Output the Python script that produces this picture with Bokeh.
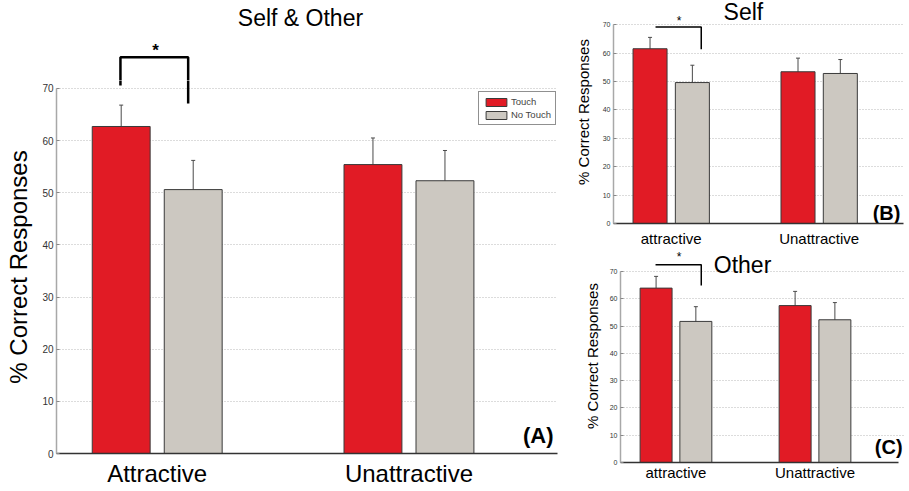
from bokeh.plotting import figure
from bokeh.models import (ColumnDataSource, Whisker, TeeHead, FixedTicker,
                          Legend, LegendItem)
from bokeh.core.properties import value
from bokeh.layouts import row, column
from bokeh.embed import file_html
from bokeh.resources import INLINE

# ---------------- data ----------------
categories_a = ["Attractive", "Unattractive"]
categories_bc = ["attractive", "Unattractive"]
y_ticks = [0, 10, 20, 30, 40, 50, 60, 70]
series_names = ["Touch", "No Touch"]
y_title = "% Correct Responses"

# Panel A: Self & Other
a_touch = [62.7, 55.4]
a_touch_lo = [58.5, 50.3]
a_touch_hi = [66.8, 60.5]
a_notouch = [50.6, 52.3]
a_notouch_lo = [45.0, 46.7]
a_notouch_hi = [56.2, 58.1]

# Panel B: Self
b_touch = [61.5, 53.4]
b_touch_lo = [57.4, 48.1]
b_touch_hi = [65.5, 58.2]
b_notouch = [49.6, 52.8]
b_notouch_lo = [43.6, 47.5]
b_notouch_hi = [55.7, 57.7]

# Panel C: Other
c_touch = [63.9, 57.5]
c_touch_lo = [59.3, 52.3]
c_touch_hi = [68.2, 62.7]
c_notouch = [51.7, 52.3]
c_notouch_lo = [46.2, 45.7]
c_notouch_hi = [57.1, 58.6]

# significance brackets (attractive: Touch vs No Touch): [top, left leg end, right leg end]
a_sig = [75.95, 70.57, 67.09]
b_sig = [69.17, None, 61.28]
c_sig = [72.44, None, 64.86]

# ---------------- style ----------------
RED = "#e11b25"
GREY = "#ccc8c1"
EDGE = "#3a3a3a"
FONT = "Liberation Sans"
OFFSET = 0.143
BAR_W = 0.23


def style_axes(p, cats, tick_font, cat_font, cat_standoff, lab_font, lab_standoff, xbounds):
    p.outline_line_color = None
    p.xgrid.visible = False
    p.yaxis.ticker = FixedTicker(ticks=y_ticks)
    p.yaxis.bounds = (0, 70)
    p.yaxis.axis_line_color = "#a8a8a8"
    p.yaxis.axis_line_width = 1.5
    p.yaxis.major_tick_in = 3
    p.yaxis.major_tick_out = 0
    p.yaxis.major_tick_line_color = "#888888"
    p.yaxis.minor_tick_line_color = None
    p.yaxis.major_label_text_font = FONT
    p.yaxis.major_label_text_font_size = tick_font
    p.yaxis.major_label_text_color = "#333333"
    p.yaxis.major_label_standoff = 3
    p.yaxis.axis_label = y_title
    p.yaxis.axis_label_text_font = FONT
    p.yaxis.axis_label_text_font_size = lab_font
    p.yaxis.axis_label_text_font_style = "normal"
    p.yaxis.axis_label_text_color = "black"
    p.yaxis.axis_label_standoff = lab_standoff

    p.ygrid.grid_line_color = "#b8b8b8"
    p.ygrid.grid_line_dash = "1 2"
    p.ygrid.grid_line_width = 1

    p.xaxis.ticker = FixedTicker(ticks=[i + 1 for i in range(len(cats))])
    p.xaxis.major_label_overrides = {i + 1: c for i, c in enumerate(cats)}
    p.xaxis.bounds = xbounds
    p.xaxis.major_tick_in = 0
    p.xaxis.major_tick_out = 0
    p.xaxis.minor_tick_line_color = None
    p.xaxis.axis_line_color = "#333333"
    p.xaxis.axis_line_width = 1.5
    p.xaxis.major_label_text_font = FONT
    p.xaxis.major_label_text_font_size = cat_font
    p.xaxis.major_label_text_color = "black"
    p.xaxis.major_label_standoff = cat_standoff


def add_bars(p, cats, touch, tlo, thi, nt, nlo, nhi):
    xt = [i + 1 - OFFSET for i in range(len(cats))]
    xn = [i + 1 + OFFSET for i in range(len(cats))]
    st = ColumnDataSource(dict(x=xt, top=touch, lo=tlo, hi=thi))
    sn = ColumnDataSource(dict(x=xn, top=nt, lo=nlo, hi=nhi))
    rt = p.vbar(x="x", top="top", width=BAR_W, source=st, fill_color=RED,
                line_color=EDGE, line_width=1)
    rn = p.vbar(x="x", top="top", width=BAR_W, source=sn, fill_color=GREY,
                line_color=EDGE, line_width=1)
    for s in (st, sn):
        p.add_layout(Whisker(base="x", upper="hi", lower="lo", source=s,
                             line_color="#4a4a4a", line_width=1,
                             upper_head=TeeHead(size=4, line_color="#4a4a4a", line_width=1),
                             lower_head=TeeHead(size=4, line_color="#4a4a4a", line_width=1)))
    return rt, rn, xt, xn


def add_text(p, x, y, text, size, bold=False, align="center"):
    p.text(x=[x], y=[y], text=[text], text_font=value(FONT), text_font_size=value(size),
           text_font_style="bold" if bold else "normal", text_align=align,
           text_baseline="middle", text_color="black")


def add_bracket(p, x0, x1, sig, width):
    top, left_end, right_end = sig
    if left_end is not None:
        xs, ys = [x0, x0, x1, x1], [left_end, top, top, right_end]
    else:
        xs, ys = [x0, x1, x1], [top, top, right_end]
    p.line(xs, ys, line_color="black", line_width=width)


def unalign(p):
    if "frame_align" in p.properties():
        p.frame_align = False
        return True
    return False


# ---------------- panel A (header strip + main plot) ----------------
XA = (0.6, 2.59)
a_x_touch = [i + 1 - OFFSET for i in range(len(categories_a))]
a_x_notouch = [i + 1 + OFFSET for i in range(len(categories_a))]

hA = figure(width=565, height=80, x_range=XA, y_range=(71.52, 86.74),
            output_backend="svg", toolbar_location=None,
            x_axis_location=None, y_axis_location=None,
            min_border_left=56, min_border_right=8, min_border_top=0, min_border_bottom=0)
hA.outline_line_color = None
hA.grid.visible = False
add_text(hA, 1.569, 83.5, "Self & Other", "23px")
add_text(hA, 0.993, 77.2, "*", "17px", bold=True)
add_bracket(hA, a_x_touch[0] - 0.003, a_x_notouch[0] - 0.02, a_sig, 2.5)

pA = figure(width=565, height=409, x_range=hA.x_range, y_range=(0, 71.52),
            output_backend="svg", toolbar_location=None,
            min_border_left=56, min_border_right=8, min_border_top=0, min_border_bottom=33)
style_axes(pA, categories_a, "10px", "24px", 6, "24px", 7, XA)
rAt, rAn, _, _ = add_bars(pA, categories_a, a_touch, a_touch_lo, a_touch_hi,
                          a_notouch, a_notouch_lo, a_notouch_hi)
add_bracket(pA, a_x_touch[0] - 0.003, a_x_notouch[0] - 0.02, a_sig, 2.5)
add_text(pA, 2.574, 3.4, "(A)", "22px", bold=True, align="right")
legend = Legend(items=[LegendItem(label=series_names[0], renderers=[rAt]),
                       LegendItem(label=series_names[1], renderers=[rAn])],
                location=(422, 328))
legend.label_text_font = FONT
legend.label_text_font_size = "9.5px"
legend.glyph_width = 26
legend.glyph_height = 10
legend.label_height = 10
legend.label_width = 20
legend.label_standoff = 2
legend.spacing = 2
legend.padding = 4
legend.margin = 0
legend.border_line_color = "#222222"
legend.border_line_width = 1.5
legend.background_fill_color = "white"
legend.background_fill_alpha = 1.0
pA.add_layout(legend)

# ---------------- panel B ----------------
XB = (0.610, 2.570)
pB = figure(width=342, height=249, x_range=XB, y_range=(0, 78.48),
            output_backend="svg", toolbar_location=None,
            min_border_left=48, min_border_right=4, min_border_top=0, min_border_bottom=24)
unalign(pB)
style_axes(pB, categories_bc, "7px", "15px", 6, "15px", 8, XB)
_, _, xtB, xnB = add_bars(pB, categories_bc, b_touch, b_touch_lo, b_touch_hi,
                          b_notouch, b_notouch_lo, b_notouch_hi)
add_bracket(pB, xtB[0] + 0.037, xnB[0] + 0.06, b_sig, 1.5)
add_text(pB, 1.054, 71.4, "*", "12px")
add_text(pB, 1.488, 74.3, "Self", "23px")
add_text(pB, 2.549, 3.84, "(B)", "20px", bold=True, align="right")

# ---------------- panel C ----------------
XC = (0.601, 2.651)
pC = figure(width=342, height=240, x_range=XC, y_range=(0, 78.05),
            output_backend="svg", toolbar_location=None,
            min_border_left=55, min_border_right=2, min_border_top=0,
            min_border_bottom=27)
unalign(pC)
style_axes(pC, categories_bc, "7px", "15px", 1, "15px", 6, (0.601, 2.601))
_, _, xtC, xnC = add_bars(pC, categories_bc, c_touch, c_touch_lo, c_touch_hi,
                          c_notouch, c_notouch_lo, c_notouch_hi)
add_bracket(pC, xtC[0] - 0.004, xnC[0] + 0.039, c_sig, 1.5)
add_text(pC, 1.023, 75.2, "*", "12px")
add_text(pC, 1.479, 72.55, "Other", "23px")
add_text(pC, 2.630, 5.68, "(C)", "20px", bold=True, align="right")

layout = row(column(hA, pA), column(pB, pC))
open("out.html", "w").write(file_html(layout, INLINE))
